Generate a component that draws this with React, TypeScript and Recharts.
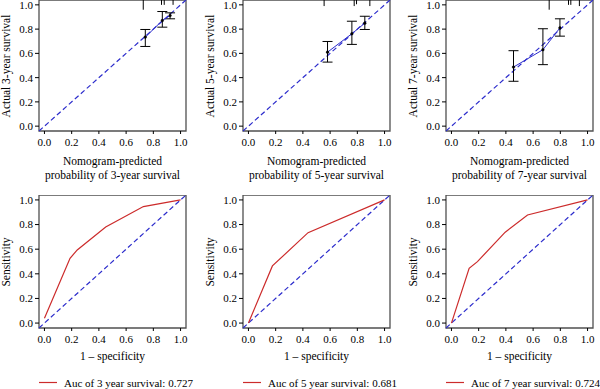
import React from 'react';
import { LineChart, Line, XAxis, YAxis, ReferenceLine, ReferenceArea, ErrorBar } from 'recharts';

// ---------- data ----------
const axisTicks = [0, 0.2, 0.4, 0.6, 0.8, 1.0];
const yearLabels = ['3', '5', '7'];
const aucValues = ['0.727', '0.681', '0.724'];

// calibration (nomogram-predicted vs actual)
const cal3Pred = [0.741, 0.866, 0.923];
const cal3Obs = [0.734, 0.871, 0.912];
const cal3Lo = [0.657, 0.816, 0.885];
const cal3Hi = [0.797, 0.945, 0.934];

const cal5Pred = [0.581, 0.76, 0.855];
const cal5Obs = [0.61, 0.762, 0.849];
const cal5Lo = [0.528, 0.674, 0.797];
const cal5Hi = [0.698, 0.865, 0.906];

const cal7Pred = [0.456, 0.672, 0.797];
const cal7Obs = [0.487, 0.63, 0.81];
const cal7Lo = [0.37, 0.507, 0.742];
const cal7Hi = [0.622, 0.803, 0.885];

// rug (distribution of predictions) at top
const rug3X = [0.726, 0.86, 0.88, 0.945];
const rug3H = [0.08, 0.04, 0.04, 0.04];
const rug5X = [0.556, 0.777, 0.794, 0.892];
const rug5H = [0.05, 0.05, 0.035, 0.05];
const rug7X = [0.718, 0.86, 0.877, 0.94];
const rug7H = [0.08, 0.04, 0.04, 0.05];

// ROC curves
const roc3X = [0.0, 0.188, 0.241, 0.45, 0.727, 1.0];
const roc3Y = [0.04, 0.526, 0.594, 0.78, 0.946, 1.0];
const roc5X = [0.0, 0.176, 0.438, 1.0];
const roc5Y = [0.0, 0.464, 0.734, 1.0];
const roc7X = [0.0, 0.13, 0.191, 0.395, 0.559, 1.0];
const roc7Y = [0.0, 0.445, 0.499, 0.738, 0.878, 1.0];

// ---------- styles ----------
const FONT = '"Liberation Serif", "Times New Roman", serif';
const BLUE = '#2c2ccc';
const RED = '#cc2b2b';
const LO = -0.04;
const HI = 1.04;
const fmt = (v: number) => v.toFixed(1);
const tickStyle = { fill: '#000', fontSize: 11, fontFamily: FONT };

const YAXIS_W = 40;
const XAXIS_H = 20;
const BOX_W = 147;

const boxLefts = [39, 243, 446];
const topRowTop = 0;
const topRowH = 131;
const botRowTop = 195;
const botRowH = 133;

function Frame(props: { children: React.ReactNode }) {
  return <>{props.children}</>;
}

function commonAxes() {
  return [
    <XAxis
      key="x"
      type="number"
      dataKey="x"
      domain={[LO, HI]}
      ticks={axisTicks}
      allowDataOverflow
      interval={0}
      axisLine={false}
      tickLine={{ stroke: '#000' }}
      tickSize={3}
      tickMargin={4}
      tickFormatter={fmt}
      tick={tickStyle}
      height={XAXIS_H}
    />,
    <YAxis
      key="y"
      type="number"
      domain={[LO, HI]}
      ticks={axisTicks}
      allowDataOverflow
      interval={0}
      axisLine={false}
      tickLine={{ stroke: '#000' }}
      tickSize={4}
      tickMargin={2}
      tickFormatter={fmt}
      tick={tickStyle}
      width={YAXIS_W}
    />,
    <ReferenceArea
      key="box"
      x1={LO}
      x2={HI}
      y1={LO}
      y2={HI}
      fill="none"
      fillOpacity={0}
      stroke="#505050"
      strokeWidth={1.3}
    />,
    <ReferenceLine
      key="diag"
      segment={[{ x: LO, y: LO }, { x: HI, y: HI }]}
      stroke={BLUE}
      strokeWidth={1.2}
      strokeDasharray="5 3"
    />,
  ];
}

function CalPanel(props: {
  left: number; pred: number[]; obs: number[]; lo: number[]; hi: number[]; rugX: number[]; rugH: number[];
}) {
  const { left, pred, obs, lo, hi, rugX, rugH } = props;
  const rows = pred.map((p, i) => ({ x: p, y: obs[i], err: [obs[i] - lo[i], hi[i] - obs[i]] }));
  const top = topRowTop - 2;
  return (
    <div style={{ position: 'absolute', left: left - YAXIS_W, top }}>
      <LineChart
        width={YAXIS_W + BOX_W + 3}
        height={2 + topRowH + XAXIS_H}
        data={rows}
        margin={{ top: 2, right: 3, bottom: 0, left: 0 }}
      >
        {commonAxes()}
        {rugX.map((rx, i) => (
          <ReferenceLine
            key={'rug' + i}
            segment={[{ x: rx, y: HI }, { x: rx, y: HI - rugH[i] }]}
            stroke="#000"
            strokeWidth={1}
          />
        ))}
        <Line
          type="linear"
          dataKey="y"
          stroke={BLUE}
          strokeWidth={1}
          dot={{ r: 1.3, fill: '#000', stroke: '#000', strokeWidth: 0.5 }}
          isAnimationActive={false}
        >
          <ErrorBar dataKey="err" width={5} stroke="#000" strokeWidth={1} direction="y" />
        </Line>
      </LineChart>
    </div>
  );
}

function RocPanel(props: { left: number; xs: number[]; ys: number[] }) {
  const { left, xs, ys } = props;
  const rows = xs.map((x, i) => ({ x, y: ys[i] }));
  return (
    <div style={{ position: 'absolute', left: left - YAXIS_W, top: botRowTop }}>
      <LineChart
        width={YAXIS_W + BOX_W + 3}
        height={botRowH + XAXIS_H}
        data={rows}
        margin={{ top: 0, right: 3, bottom: 0, left: 0 }}
      >
        {commonAxes()}
        <Line type="linear" dataKey="y" stroke={RED} strokeWidth={1.2} dot={false} isAnimationActive={false} />
      </LineChart>
    </div>
  );
}

const textBase: React.CSSProperties = {
  position: 'absolute',
  fontFamily: FONT,
  fontSize: 11.5,
  color: '#000',
  whiteSpace: 'nowrap',
  lineHeight: 1,
};

function CenterText(props: { x: number; y: number; rotate?: boolean; children: React.ReactNode }) {
  const { x, y, rotate } = props;
  return (
    <div
      style={{
        ...textBase,
        left: x,
        top: y,
        transform: rotate ? 'translate(-50%, -50%) rotate(-90deg)' : 'translate(-50%, -50%)',
      }}
    >
      {props.children}
    </div>
  );
}

export default function App() {
  const cals = [
    { pred: cal3Pred, obs: cal3Obs, lo: cal3Lo, hi: cal3Hi, rugX: rug3X, rugH: rug3H },
    { pred: cal5Pred, obs: cal5Obs, lo: cal5Lo, hi: cal5Hi, rugX: rug5X, rugH: rug5H },
    { pred: cal7Pred, obs: cal7Obs, lo: cal7Lo, hi: cal7Hi, rugX: rug7X, rugH: rug7H },
  ];
  const rocs = [
    { xs: roc3X, ys: roc3Y },
    { xs: roc5X, ys: roc5Y },
    { xs: roc7X, ys: roc7Y },
  ];
  return (
    <div style={{ position: 'absolute', left: 0, top: 0, width: 600, height: 389, background: '#fff', overflow: 'hidden' }}>
      {cals.map((c, i) => (
        <CalPanel key={'cal' + i} left={boxLefts[i]} {...c} />
      ))}
      {rocs.map((r, i) => (
        <RocPanel key={'roc' + i} left={boxLefts[i]} {...r} />
      ))}
      {yearLabels.map((yr, i) => {
        const bl = boxLefts[i];
        const cx = bl + BOX_W / 2;
        return (
          <Frame key={'t' + i}>
            <CenterText x={bl - 32.5} y={topRowTop + topRowH / 2} rotate>
              {`Actual ${yr}-year survival`}
            </CenterText>
            <CenterText x={cx} y={162}>Nomogram-predicted</CenterText>
            <CenterText x={cx} y={176}>{`probability of ${yr}-year survival`}</CenterText>
            <CenterText x={bl - 32.5} y={botRowTop + botRowH / 2} rotate>
              Sensitivity
            </CenterText>
            <CenterText x={cx} y={357}>1 – specificity</CenterText>
            <svg style={{ position: 'absolute', left: bl, top: 377 }} width={20} height={10}>
              <line x1={0} y1={5.5} x2={18} y2={5.5} stroke={RED} strokeWidth={1.2} />
            </svg>
            <div style={{ ...textBase, fontSize: 11, left: bl + 25, top: 382.5, transform: 'translateY(-50%)' }}>
              {`Auc of ${yr} year survival: ${aucValues[i]}`}
            </div>
          </Frame>
        );
      })}
    </div>
  );
}
